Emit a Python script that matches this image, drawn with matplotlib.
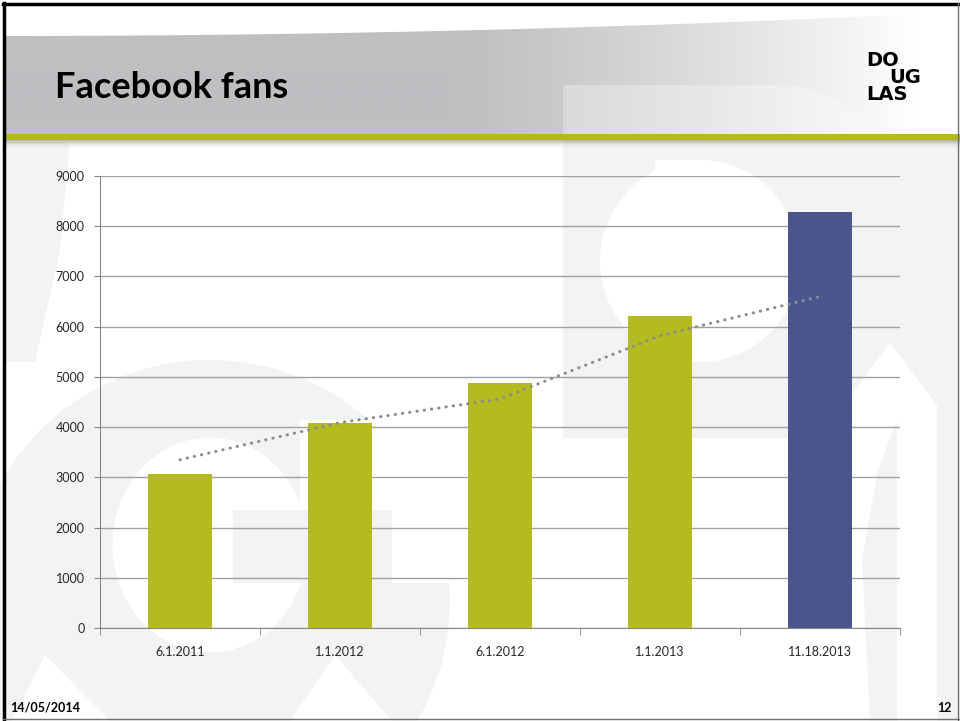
import numpy as np
import matplotlib.pyplot as plt
from matplotlib.patches import Polygon, Rectangle, Ellipse, Circle

# Dane wykresu
dates = ['6.1.2011', '1.1.2012', '6.1.2012', '1.1.2013', '11.18.2013']
fans = [3070, 4080, 4880, 6210, 8290]
trend = [3350, 4090, 4560, 5820, 6600]
bar_colors = ['#b3bb1e', '#b3bb1e', '#b3bb1e', '#b3bb1e', '#4a5590']
y_ticks = [0, 1000, 2000, 3000, 4000, 5000, 6000, 7000, 8000, 9000]

W, H = 960, 721
fig = plt.figure(figsize=(9.6, 7.21), dpi=100)
fig.patch.set_facecolor('white')

# Tlo slajdu w pikselach
bg = fig.add_axes([0, 0, 1, 1], zorder=0)
bg.set_xlim(0, W)
bg.set_ylim(H, 0)
bg.axis('off')

wm = '#f3f3f3'
# lewy pasek znaku wodnego
bg.add_patch(Polygon([(5, 142), (70, 142), (60, 250), (35, 362), (5, 362)], color=wm, lw=0))
# litera G
bg.add_patch(Circle((210, 600), 240, color=wm, lw=0))
bg.add_patch(Ellipse((210, 545), 195, 215, color='white', lw=0))
bg.add_patch(Rectangle((300, 420), 170, 163, color='white', lw=0))
bg.add_patch(Rectangle((233, 510), 159, 73, color=wm, lw=0))
bg.add_patch(Polygon([(12, 721), (45, 655), (110, 721)], color='white', lw=0))
bg.add_patch(Polygon([(290, 721), (335, 655), (392, 721)], color='white', lw=0))
# litera D i prawa strona
bg.add_patch(Polygon([(563, 140), (960, 140), (960, 721), (937, 721), (937, 405),
                      (890, 343), (840, 410), (800, 438), (563, 438)], color=wm, lw=0))
bg.add_patch(Rectangle((655, 160), 45, 202, color='white', lw=0))
bg.add_patch(Ellipse((700, 261), 200, 202, color='white', lw=0))
bg.add_patch(Polygon([(870, 721), (862, 560), (878, 470), (897, 420), (897, 721)], color=wm, lw=0))

# naglowek z gradientem
xs = np.linspace(3, W, 200)
top = 36 - 24 * (xs / W) ** 2
band = Polygon(np.column_stack([np.r_[xs, xs[::-1]], np.r_[top, np.full_like(xs, 135)]]),
               facecolor='none', edgecolor='none')
bg.add_patch(band)
t = np.clip((np.linspace(0, W, 400) - 450) / 470, 0, 1) ** 1.2
g0 = np.array([189, 191, 193]) / 255
grad = g0[None, :] + (1 - g0[None, :]) * t[:, None]
img = bg.imshow(grad[None, :, :], extent=[0, W, 135, 5], aspect='auto', zorder=1)
img.set_clip_path(band)
bg.add_patch(Polygon([(563, 85), (790, 85), (830, 95), (855, 112), (870, 135), (563, 135)],
                     color='white', alpha=0.3, lw=0, zorder=2))

# zielona linia i cien
bg.add_patch(Rectangle((3, 134), W, 6, color='#b2ba1c', lw=0, zorder=3))
for i, a in enumerate([0.45, 0.3, 0.18, 0.1, 0.05]):
    bg.add_patch(Rectangle((3, 140 + i * 1.4), W, 1.4, color='#606060', alpha=a, lw=0, zorder=3))

# ramka
bg.plot([4, 4], [3, H], color='black', lw=2.5, zorder=5)
bg.plot([3, W], [4, 4], color='black', lw=2.5, zorder=5)
bg.plot([958, 958], [3, H], color='#707070', lw=1, zorder=5)
bg.plot([3, W], [719, 719], color='#707070', lw=1, zorder=5)

# tytul i logo
bg.text(55, 98, 'Facebook fans', family=['Lato', 'DejaVu Sans'], weight='bold',
        fontsize=26, color='black', va='baseline', ha='left', zorder=6)
logo = dict(family='DejaVu Sans', weight='heavy', fontsize=14, color='black',
            va='baseline', ha='left', zorder=6)
bg.text(866, 66, 'DO', **logo)
bg.text(889, 83, 'UG', **logo)
bg.text(866, 100, 'LAS', **logo)

# stopka
bg.text(10, 712, '14/05/2014', family=['Lato', 'DejaVu Sans'], weight='bold',
        fontsize=9, va='baseline', ha='left', zorder=6)
bg.text(952, 712, '12', family=['Lato', 'DejaVu Sans'], weight='bold',
        fontsize=9, va='baseline', ha='right', zorder=6)

# wykres
ax = fig.add_axes([100 / W, (H - 628) / H, 800 / W, (628 - 176) / H], zorder=2)
ax.patch.set_alpha(0)
x = np.arange(len(dates))
ax.bar(x, fans, width=0.4, color=bar_colors, zorder=3)
ax.plot(x, trend, color='#8c8c8c', lw=2.2, linestyle=(0, (0.1, 2.3)),
        dash_capstyle='round', zorder=4)

ax.set_xlim(-0.5, len(dates) - 0.5)
ax.set_ylim(0, 9000)
ax.set_yticks(y_ticks)
ax.set_xticks(x)
ax.set_xticklabels(dates)
ax.set_xticks(np.arange(-0.5, len(dates), 1), minor=True)
ax.yaxis.grid(True, color='#a0a0a0', lw=1)
ax.set_axisbelow(True)
for s in ['top', 'right']:
    ax.spines[s].set_visible(False)
for s in ['left', 'bottom']:
    ax.spines[s].set_color('#868686')
ax.tick_params(axis='y', length=4, color='#868686', pad=7, labelsize=9)
ax.tick_params(axis='x', which='major', length=0, pad=13, labelsize=9)
ax.tick_params(axis='x', which='minor', length=5, color='#868686')
for lab in ax.get_xticklabels() + ax.get_yticklabels():
    lab.set_family(['Lato', 'DejaVu Sans'])
    lab.set_color('#262626')

fig.savefig('out.png', dpi=100)
